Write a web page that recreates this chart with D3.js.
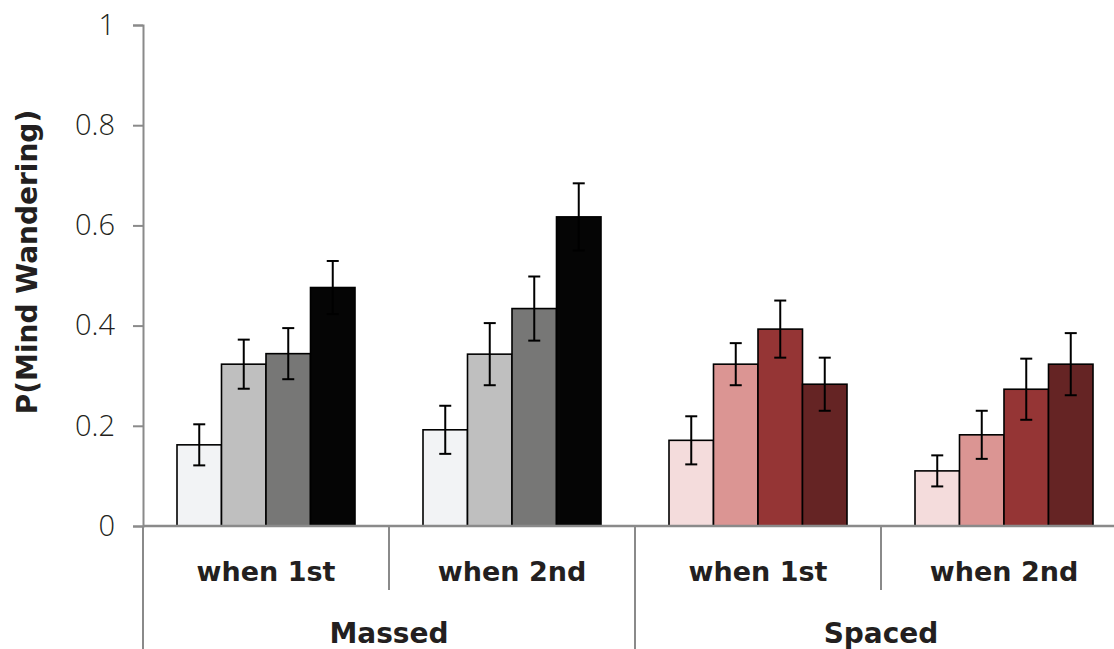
<!DOCTYPE html>
<html>
<head>
<meta charset="utf-8">
<script src="https://cdn.jsdelivr.net/npm/d3@7"></script>
<style>
  html, body { margin: 0; padding: 0; background: #fff; }
  svg { display: block; }
</style>
</head>
<body>
<svg id="chart" width="1114" height="649"></svg>
<script>
// Conditions and positions within each condition
const conditions = ["Massed", "Spaced"];
const positions = ["when 1st", "when 2nd"];
const levels = ["L1", "L2", "L3", "L4"];

// Mean P(mind wandering) for each level, per condition × position
const massedFirst  = [0.162, 0.323, 0.344, 0.476];
const massedSecond = [0.192, 0.343, 0.434, 0.617];
const spacedFirst  = [0.171, 0.323, 0.393, 0.283];
const spacedSecond = [0.110, 0.182, 0.273, 0.323];

// Standard errors
const massedFirstErr  = [0.041, 0.049, 0.051, 0.053];
const massedSecondErr = [0.048, 0.062, 0.064, 0.067];
const spacedFirstErr  = [0.048, 0.042, 0.057, 0.053];
const spacedSecondErr = [0.031, 0.048, 0.061, 0.062];

const yTicks = [0, 0.2, 0.4, 0.6, 0.8, 1];
const yTickLabels = ["0", "0.2", "0.4", "0.6", "0.8", "1"];

const grayShades = ["#f2f3f5", "#bfbfbf", "#777776", "#050505"];
const redShades  = ["#f4dcdc", "#db9593", "#953535", "#652424"];

const groups = [
  { key: "m1", condition: "Massed", position: "when 1st", values: massedFirst,  errs: massedFirstErr,  colors: grayShades },
  { key: "m2", condition: "Massed", position: "when 2nd", values: massedSecond, errs: massedSecondErr, colors: grayShades },
  { key: "s1", condition: "Spaced", position: "when 1st", values: spacedFirst,  errs: spacedFirstErr,  colors: redShades },
  { key: "s2", condition: "Spaced", position: "when 2nd", values: spacedSecond, errs: spacedSecondErr, colors: redShades }
];

const svg = d3.select("#chart");
const axisColor = "#8a8a8a";
const textColor = "#231f20";

const plotLeft = 143, groupW = 246;
const plotRight = plotLeft + groupW * groups.length;
const plotTop = 25, plotBottom = 526;

const x0 = d3.scaleBand().domain(groups.map(g => g.key)).range([plotLeft, plotRight]).padding(0);
const x1 = d3.scaleBand().domain(levels).range([34, groupW - 34]).padding(0);
const y = d3.scaleLinear().domain([0, 1]).range([plotBottom, plotTop]);
const xCond = d3.scaleBand().domain(conditions).range([plotLeft, plotRight]).padding(0);

// Y axis
const yAxis = d3.axisLeft(y).tickValues(yTicks)
  .tickFormat((d, i) => yTickLabels[i]).tickSize(10).tickPadding(18);
const yg = svg.append("g").attr("transform", `translate(${plotLeft},0)`).call(yAxis);
yg.select(".domain").attr("stroke", axisColor).attr("stroke-width", 2);
yg.selectAll(".tick line").attr("stroke", axisColor).attr("stroke-width", 2);
yg.selectAll(".tick text")
  .attr("font-family", "'Open Sans', sans-serif")
  .attr("font-weight", 300)
  .attr("font-size", 29)
  .attr("fill", textColor);

// Y label
svg.append("text")
  .attr("transform", `translate(37,262) rotate(-90)`)
  .attr("text-anchor", "middle")
  .attr("font-family", "'DejaVu Sans', sans-serif")
  .attr("font-weight", "bold")
  .attr("font-size", 28)
  .attr("fill", textColor)
  .text("P(Mind Wandering)");

// Bars
const gGroups = svg.append("g").selectAll("g.grp").data(groups).join("g")
  .attr("class", "grp")
  .attr("transform", d => `translate(${x0(d.key)},0)`);

gGroups.selectAll("rect").data(d => levels.map((l, i) => ({ l, v: d.values[i], e: d.errs[i], c: d.colors[i] })))
  .join("rect")
  .attr("x", d => x1(d.l))
  .attr("y", d => y(d.v))
  .attr("width", x1.bandwidth())
  .attr("height", d => y(0) - y(d.v))
  .attr("fill", d => d.c)
  .attr("stroke", "#000")
  .attr("stroke-width", 1.6);

// Error bars
const eb = gGroups.selectAll("g.err").data(d => levels.map((l, i) => ({ l, v: d.values[i], e: d.errs[i] })))
  .join("g").attr("class", "err")
  .attr("transform", d => `translate(${x1(d.l) + x1.bandwidth() / 2},0)`);
eb.append("line").attr("x1", 0).attr("x2", 0)
  .attr("y1", d => y(d.v + d.e)).attr("y2", d => y(d.v - d.e))
  .attr("stroke", "#000").attr("stroke-width", 2);
eb.append("line").attr("x1", -6).attr("x2", 6)
  .attr("y1", d => y(d.v + d.e)).attr("y2", d => y(d.v + d.e))
  .attr("stroke", "#000").attr("stroke-width", 2);
eb.append("line").attr("x1", -6).attr("x2", 6)
  .attr("y1", d => y(d.v - d.e)).attr("y2", d => y(d.v - d.e))
  .attr("stroke", "#000").attr("stroke-width", 2);

// X axis baseline
svg.append("line")
  .attr("x1", plotLeft).attr("x2", plotRight)
  .attr("y1", y(0)).attr("y2", y(0))
  .attr("stroke", axisColor).attr("stroke-width", 2.5);

// Separators: short between positions, full between conditions
groups.forEach((g, i) => {
  const xs = x0(g.key);
  const full = i % 2 === 0;
  svg.append("line")
    .attr("x1", xs).attr("x2", xs)
    .attr("y1", y(0)).attr("y2", full ? 649 : 590)
    .attr("stroke", axisColor).attr("stroke-width", 2);
});
svg.append("line")
  .attr("x1", plotRight).attr("x2", plotRight)
  .attr("y1", y(0)).attr("y2", 649)
  .attr("stroke", axisColor).attr("stroke-width", 2);

// Position labels
svg.append("g").selectAll("text").data(groups).join("text")
  .attr("x", d => x0(d.key) + x0.bandwidth() / 2)
  .attr("y", 581)
  .attr("text-anchor", "middle")
  .attr("font-family", "'DejaVu Sans', sans-serif")
  .attr("font-weight", "bold")
  .attr("font-size", 27)
  .attr("fill", textColor)
  .text(d => d.position);

// Condition labels
svg.append("g").selectAll("text").data(conditions).join("text")
  .attr("x", d => xCond(d) + xCond.bandwidth() / 2)
  .attr("y", 643)
  .attr("text-anchor", "middle")
  .attr("font-family", "'DejaVu Sans', sans-serif")
  .attr("font-weight", "bold")
  .attr("font-size", 28)
  .attr("fill", textColor)
  .text(d => d);
</script>
</body>
</html>
